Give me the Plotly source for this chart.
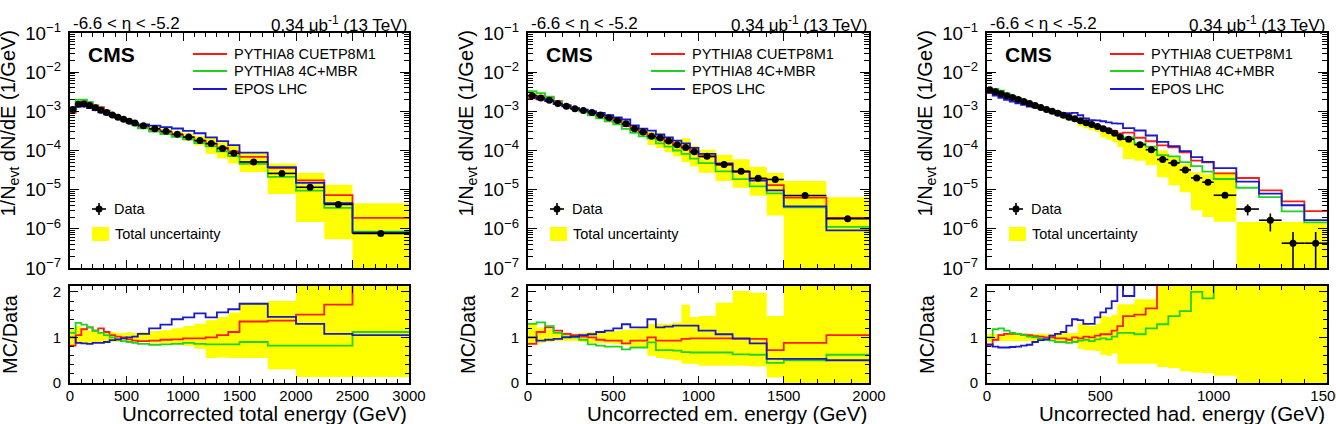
import plotly.graph_objects as go

FONT = "Liberation Sans, Arial, sans-serif"
W, H = 1336, 424

# ---------------- panel 1 : total energy ----------------
tot_edges = [0, 50, 100, 150, 200, 250, 300, 350, 400, 450, 500, 550, 600,
             700, 800, 900, 1000, 1100, 1200, 1300, 1400, 1500,
             1750, 2000, 2250, 2500, 3000]
tot_data = [1.12e-3, 1.51e-3, 1.55e-3, 1.41e-3, 1.23e-3, 1.07e-3, 9.3e-4, 8.1e-4, 7.1e-4, 6.3e-4, 5.6e-4, 5.0e-4,
            4.3e-4, 3.6e-4, 3.1e-4, 2.6e-4, 2.2e-4, 1.8e-4, 1.5e-4, 1.12e-4, 8.5e-5,
            5.1e-5, 2.6e-5, 1.15e-5, 4.2e-6, 7.6e-7]
tot_stat = [0, 0, 0, 0, 0, 0, 0, 0, 0, 0, 0, 0,
            0, 0, 0, 0, 0, 0, 0, 0, 0,
            1.5e-6, 1.5e-6, 9e-7, 5e-7, 1.3e-7]
tot_band_lo = [0.82, 0.85, 0.88, 0.88, 0.88, 0.9, 0.9, 0.9, 0.9, 0.92, 0.92, 0.9,
               0.9, 0.88, 0.87, 0.86, 0.82, 0.75, 0.55, 0.56, 0.55,
               0.55, 0.3, 0.13, 0.13, 0.13]
tot_band_hi = [1.2, 1.25, 1.2, 1.15, 1.15, 1.12, 1.12, 1.12, 1.1, 1.1, 1.12, 1.1,
               1.12, 1.14, 1.16, 1.2, 1.25, 1.3, 1.38, 1.45, 1.55,
               1.77, 1.8, 2.3, 3.2, 5.9]
tot_red = [0.82, 1.05, 1.18, 1.22, 1.15, 1.2, 1.12, 1.05, 1.02, 1.0, 0.96, 0.93,
           0.92, 0.93, 0.95, 0.96, 0.98, 0.98, 1.0, 1.05, 1.12,
           1.35, 1.37, 1.5, 1.72, 2.5]
tot_green = [1.1, 1.32, 1.28, 1.22, 1.15, 1.1, 1.05, 1.0, 0.95, 0.92, 0.9, 0.88,
             0.86, 0.84, 0.85, 0.86, 0.88, 0.86, 0.85, 0.85, 0.85,
             0.9, 0.82, 0.82, 0.82, 1.12]
tot_blue = [1.0, 0.88, 0.87, 0.86, 0.88, 0.88, 0.9, 0.94, 0.96, 0.98, 1.0, 1.02,
            1.08, 1.2, 1.28, 1.4, 1.44, 1.53, 1.44, 1.55, 1.62,
            1.74, 1.45, 1.3, 1.08, 1.05]

# ---------------- panel 2 : em energy ----------------
em_edges = [0, 50, 100, 150, 200, 250, 300, 350, 400, 450, 500, 550, 600, 650, 700, 750, 800, 850, 900, 950, 1000,
            1100, 1200, 1300, 1400, 1500, 1750, 2000]
em_data = [2.51e-3, 2.19e-3, 1.91e-3, 1.58e-3, 1.35e-3, 1.17e-3, 1.05e-3, 9.3e-4, 8.1e-4, 6.9e-4,
           5.8e-4, 4.8e-4, 3.6e-4, 2.95e-4, 2.3e-4, 2.1e-4, 1.74e-4, 1.41e-4, 1.2e-4, 9.3e-5,
           7.1e-5, 4.4e-5, 2.95e-5, 1.95e-5, 1.82e-5, 7.1e-6, 1.82e-6]
em_stat = [0, 0, 0, 0, 0, 0, 0, 0, 0, 0,
           0, 0, 0, 0, 0, 0, 0, 0, 0, 0,
           0, 0, 0, 0, 8e-7, 5e-7, 2.5e-7]
em_band_lo = [0.85, 0.88, 0.9, 0.92, 0.92, 0.92, 0.9, 0.88, 0.88, 0.87,
              0.85, 0.83, 0.8, 0.78, 0.6, 0.55, 0.52, 0.5, 0.42, 0.42,
              0.38, 0.38, 0.38, 0.36, 0.12, 0.0, 0.0]
em_band_hi = [1.3, 1.22, 1.18, 1.12, 1.08, 1.08, 1.1, 1.12, 1.12, 1.14,
              1.15, 1.17, 1.18, 1.2, 1.3, 1.3, 1.3, 1.33, 1.72, 1.45,
              1.47, 1.76, 2.02, 1.98, 1.47, 2.35, 3.5]
em_red = [0.86, 1.12, 1.22, 1.15, 1.08, 1.05, 1.02, 1.0, 0.95, 0.93,
          0.93, 0.87, 0.93, 0.93, 1.0, 0.93, 0.93, 0.93, 0.97, 0.98,
          0.98, 0.98, 0.97, 0.97, 0.72, 0.88, 1.05]
em_green = [1.3, 1.33, 1.25, 1.1, 1.02, 1.0, 0.95, 0.85, 0.82, 0.8,
            0.8, 0.74, 0.78, 0.78, 0.89, 0.72, 0.72, 0.71, 0.68, 0.67,
            0.67, 0.67, 0.63, 0.62, 0.44, 0.5, 0.62]
em_blue = [1.0, 0.93, 0.95, 0.97, 1.0, 1.02, 1.05, 1.07, 1.12, 1.15,
           1.2, 1.29, 1.22, 1.22, 1.4, 1.22, 1.24, 1.26, 1.26, 1.26,
           1.15, 1.07, 0.98, 0.87, 0.53, 0.53, 0.5]

# ---------------- panel 3 : hadronic energy ----------------
had_edges = [0, 25, 50, 75, 100, 125, 150, 175, 200, 225, 250, 275, 300,
             325, 350, 375, 400, 425, 450, 475, 500, 525, 550, 575, 600,
             650, 700, 750, 800, 850, 900, 950, 1000,
             1100, 1200, 1300, 1400, 1500]
had_data = [3.55e-3, 3.16e-3, 2.82e-3, 2.51e-3, 2.24e-3, 2.0e-3, 1.78e-3, 1.58e-3, 1.41e-3, 1.26e-3, 1.12e-3, 1.0e-3,
            8.9e-4, 7.9e-4, 7.1e-4, 6.5e-4, 5.75e-4, 5.1e-4, 4.6e-4, 4.1e-4, 3.6e-4, 3.2e-4, 2.75e-4, 2.2e-4,
            1.95e-4, 1.41e-4, 1.05e-4, 5.9e-5, 4.8e-5, 3.2e-5, 2.0e-5, 1.55e-5,
            7.2e-6, 3.2e-6, 1.66e-6, 4.3e-7, 4.3e-7]
had_stat = [0, 0, 0, 0, 0, 0, 0, 0, 0, 0, 0, 0,
            0, 0, 0, 0, 0, 0, 0, 0, 0, 0, 0, 0,
            0, 0, 0, 0, 0, 0, 0, 0,
            6e-7, 1.0e-6, 8e-7, 4.0e-7, 4.0e-7]
had_band_lo = [0.9, 0.92, 0.92, 0.92, 0.92, 0.92, 0.92, 0.92, 0.92, 0.92, 0.92, 0.92,
               0.9, 0.9, 0.9, 0.9, 0.75, 0.72, 0.72, 0.7, 0.62, 0.6, 0.65, 0.42,
               0.42, 0.42, 0.42, 0.35, 0.33, 0.26, 0.23, 0.22,
               0.16, 0.0, 0.0, 0.0, 0.0]
had_band_hi = [1.08, 1.08, 1.08, 1.08, 1.08, 1.08, 1.08, 1.08, 1.08, 1.08, 1.08, 1.08,
               1.1, 1.1, 1.1, 1.1, 1.3, 1.28, 1.25, 1.3, 1.47, 1.45, 1.5, 1.73,
               1.73, 1.84, 1.84, 3.0, 3.0, 3.0, 3.0, 3.0,
               3.0, 3.0, 3.0, 3.0, 3.0]
had_main_lo = [0.92, 0.92, 0.92, 0.92, 0.92, 0.92, 0.92, 0.92, 0.92, 0.92, 0.92, 0.92,
               0.92, 0.92, 0.92, 0.92, 0.72, 0.72, 0.72, 0.72, 0.6, 0.6, 0.6, 0.55,
               0.31, 0.39, 0.40, 0.35, 0.27, 0.27, 0.15, 0.13,
               0.21, 0.0, 0.0, 0.0, 0.0]
had_main_hi = [1.08, 1.08, 1.08, 1.08, 1.08, 1.08, 1.08, 1.08, 1.08, 1.08, 1.08, 1.08,
               1.08, 1.08, 1.08, 1.08, 1.08, 1.08, 1.08, 1.08, 1.05, 1.05, 1.05, 1.05,
               1.0, 1.02, 1.15, 1.7, 1.4, 1.4, 1.4, 1.6,
               3.9, 0.47, 0.91, 3.5, 3.5]
had_red = [0.82, 0.95, 1.05, 1.08, 1.08, 1.08, 1.06, 1.05, 1.03, 1.02, 1.0, 1.0,
           0.98, 0.98, 0.95, 1.0, 0.98, 1.02, 1.0, 1.04, 1.07, 1.07, 1.15, 1.25,
           1.47, 1.5, 1.64, 2.3, 2.5, 2.8, 2.75, 3.2,
           3.6, 6.2, 5.8, 11.7, 6.6]
had_green = [1.0, 1.18, 1.2, 1.15, 1.1, 1.08, 1.05, 1.02, 1.0, 0.98, 0.95, 0.93,
             0.9, 0.9, 0.88, 0.9, 0.93, 0.95, 0.92, 0.96, 0.98, 0.96, 1.02, 1.1,
             1.1, 1.07, 1.2, 1.29, 1.47, 1.58, 2.0, 1.86,
             2.6, 3.5, 3.9, 6.5, 3.4]
had_blue = [0.85, 0.8, 0.78, 0.78, 0.79, 0.8, 0.82, 0.84, 0.9, 0.94, 0.96, 1.04,
            1.08, 1.12, 1.26, 1.4, 1.38, 1.3, 1.3, 1.44, 1.55, 1.64, 1.8, 2.2,
            1.91, 2.3, 2.3, 2.8, 2.7, 3.0, 3.4, 3.3,
            4.9, 5.0, 4.8, 9.3, 3.9]

mc_names = ["PYTHIA8 CUETP8M1", "PYTHIA8 4C+MBR", "EPOS LHC"]
mc_colors = ["#ff1a1a", "#1fd31f", "#1a1acc"]
YELLOW = "#ffff00"

panels = [
    dict(edges=tot_edges, data=tot_data, stat=tot_stat, blo=tot_band_lo, bhi=tot_band_hi,
         mlo=tot_band_lo, mhi=tot_band_hi, mc=[tot_red, tot_green, tot_blue],
         xmax=3000, xtitle="Uncorrected total energy (GeV)", L=70, R=409),
    dict(edges=em_edges, data=em_data, stat=em_stat, blo=em_band_lo, bhi=em_band_hi,
         mlo=em_band_lo, mhi=em_band_hi, mc=[em_red, em_green, em_blue],
         xmax=2000, xtitle="Uncorrected em. energy (GeV)", L=528, R=869),
    dict(edges=had_edges, data=had_data, stat=had_stat, blo=had_band_lo, bhi=had_band_hi,
         mlo=had_main_lo, mhi=had_main_hi, mc=[had_red, had_green, had_blue],
         xmax=1500, xtitle="Uncorrected had. energy (GeV)", L=987, R=1327),
]

MAIN_TOP, MAIN_BOT = 33, 268
RAT_TOP, RAT_BOT = 286, 383


def fx(p):
    return p / W


def fy(p):
    return 1 - p / H


def band_xy(edges, base, lo, hi, floor=None):
    xs, ys = [], []
    for k in range(len(lo)):
        a, b = edges[k], edges[k + 1]
        y0 = lo[k] * (base[k] if base else 1.0)
        y1 = hi[k] * (base[k] if base else 1.0)
        if floor is not None:
            y0 = max(y0, floor)
            y1 = max(y1, floor)
        xs += [a, b, b, a, a, None]
        ys += [y0, y0, y1, y1, y0, None]
    return xs, ys


fig = go.Figure()
layout = {}
shapes = []
annots = []

for i, P in enumerate(panels):
    ma, ra = 2 * i + 1, 2 * i + 2
    xm = "x" if ma == 1 else f"x{ma}"
    ym = "y" if ma == 1 else f"y{ma}"
    xr, yr = f"x{ra}", f"y{ra}"
    edges = P["edges"]
    data = P["data"]
    centers = [(edges[k] + edges[k + 1]) / 2 for k in range(len(data))]
    halfw = [(edges[k + 1] - edges[k]) / 2 for k in range(len(data))]

    # ---- main panel ----
    bx, by = band_xy(edges, data, P["mlo"], P["mhi"], floor=1e-9)
    fig.add_trace(go.Scatter(x=bx, y=by, xaxis=xm, yaxis=ym, mode="lines", fill="toself",
                             fillcolor=YELLOW, line=dict(width=0, color=YELLOW),
                             hoverinfo="skip", showlegend=False))
    for ratio, col in zip(P["mc"], mc_colors):
        vals = [d * r for d, r in zip(data, ratio)]
        fig.add_trace(go.Scatter(x=edges, y=vals + [vals[-1]], xaxis=xm, yaxis=ym, mode="lines",
                                 line=dict(color=col, width=1.8, shape="hv"), showlegend=False))
    fig.add_trace(go.Scatter(x=centers, y=data, xaxis=xm, yaxis=ym, mode="markers",
                             marker=dict(color="black", size=7),
                             error_x=dict(type="data", array=halfw, color="black", thickness=1.6, width=0),
                             error_y=dict(type="data", array=P["stat"], color="black", thickness=1.6, width=0),
                             showlegend=False))

    # ---- ratio panel ----
    rx, ry = band_xy(edges, None, P["blo"], P["bhi"])
    fig.add_trace(go.Scatter(x=rx, y=ry, xaxis=xr, yaxis=yr, mode="lines", fill="toself",
                             fillcolor=YELLOW, line=dict(width=0, color=YELLOW),
                             hoverinfo="skip", showlegend=False))
    for ratio, col in zip(P["mc"], mc_colors):
        fig.add_trace(go.Scatter(x=edges, y=list(ratio) + [ratio[-1]], xaxis=xr, yaxis=yr, mode="lines",
                                 line=dict(color=col, width=1.8, shape="hv"), showlegend=False))
    shapes.append(dict(type="line", xref=f"{xr} domain", yref=yr, x0=0, x1=1, y0=1, y1=1,
                       line=dict(color="#333333", width=1.6, dash="5px,4px"), layer="below"))

    L, R = P["L"], P["R"]
    xdom = [fx(L), fx(R)]
    common_x = dict(domain=xdom, range=[0, P["xmax"]], showline=True, linewidth=2, linecolor="black",
                    mirror="allticks", ticks="inside", tickcolor="black", tickwidth=1.3,
                    tick0=0, dtick=500, showgrid=False, zeroline=False, automargin=False,
                    minor=dict(ticks="inside", dtick=100, ticklen=4, tickcolor="black", tickwidth=1.1))
    layout["xaxis" if ma == 1 else f"xaxis{ma}"] = dict(common_x, anchor=ym, showticklabels=False, ticklen=8)
    layout[f"xaxis{ra}"] = dict(common_x, anchor=yr, ticklen=7, ticklabeloverflow="allow",
                                ticklabelstandoff=-2,
                                tickfont=dict(size=15, family=FONT, color="black"))
    layout["yaxis" if ma == 1 else f"yaxis{ma}"] = dict(
        domain=[fy(MAIN_BOT), fy(MAIN_TOP)], anchor=xm, type="log", range=[-7, -1],
        dtick=1, exponentformat="power", showexponent="all", automargin=False,
        showline=True, linewidth=2, linecolor="black", mirror="allticks",
        ticks="inside", ticklen=9, tickcolor="black", tickwidth=1.3, showgrid=False, zeroline=False,
        ticklabelstandoff=4, tickfont=dict(size=15, family=FONT, color="black"),
        minor=dict(ticks="inside", dtick="D1", ticklen=5, tickcolor="black", tickwidth=1.1))
    layout[f"yaxis{ra}"] = dict(
        domain=[fy(RAT_BOT), fy(RAT_TOP)], anchor=xr, range=[0, 2.13], automargin=False,
        tick0=0, dtick=1, showline=True, linewidth=2, linecolor="black", mirror="allticks",
        ticks="inside", ticklen=8, tickcolor="black", tickwidth=1.3, showgrid=False, zeroline=False,
        ticklabelstandoff=4, tickfont=dict(size=15, family=FONT, color="black"),
        minor=dict(ticks="inside", dtick=0.2, ticklen=4, tickcolor="black", tickwidth=1.1))

    # ---- texts ----
    annots.append(dict(text=P["xtitle"], xref="paper", yref="paper", x=fx(R), y=fy(413.5),
                       xanchor="right", yanchor="middle", showarrow=False,
                       font=dict(size=20.5, family=FONT, color="black")))
    annots.append(dict(text="1/N<sub>evt</sub> dN/dE (1/GeV)", xref="paper", yref="paper",
                       x=fx(L - 61), y=fy(28), xanchor="center", yanchor="top", textangle=-90,
                       showarrow=False, font=dict(size=20, family=FONT, color="black")))
    annots.append(dict(text="MC/Data", xref="paper", yref="paper",
                       x=fx(L - 60), y=fy(292), xanchor="center", yanchor="top", textangle=-90,
                       showarrow=False, font=dict(size=20, family=FONT, color="black")))
    annots.append(dict(text="-6.6 < η < -5.2", xref="paper", yref="paper", x=fx(L + 1), y=fy(24),
                       xanchor="left", yanchor="middle", showarrow=False,
                       font=dict(size=17, family=FONT, color="black")))
    annots.append(dict(text="0.34 μb<sup>-1</sup> (13 TeV)", xref="paper", yref="paper", x=fx(R), y=fy(24),
                       xanchor="right", yanchor="middle", showarrow=False,
                       font=dict(size=17, family=FONT, color="black")))
    annots.append(dict(text="<b>CMS</b>", xref="paper", yref="paper", x=fx(L + 16), y=fy(54),
                       xanchor="left", yanchor="middle", showarrow=False,
                       font=dict(size=21, family=FONT, color="black")))
    for k, (nm, col) in enumerate(zip(mc_names, mc_colors)):
        yy = [54, 71, 89][k]
        shapes.append(dict(type="line", xref="paper", yref="paper", x0=fx(L + 123), x1=fx(L + 157),
                           y0=fy(yy), y1=fy(yy), line=dict(color=col, width=1.8)))
        annots.append(dict(text=nm, xref="paper", yref="paper", x=fx(L + 162), y=fy(yy),
                           xanchor="left", yanchor="middle", showarrow=False,
                           font=dict(size=14.5, family=FONT, color="black")))
    # data legend
    shapes.append(dict(type="line", xref="paper", yref="paper", x0=fx(L + 22), x1=fx(L + 36),
                       y0=fy(209), y1=fy(209), line=dict(color="black", width=1.6)))
    shapes.append(dict(type="line", xref="paper", yref="paper", x0=fx(L + 29), x1=fx(L + 29),
                       y0=fy(203), y1=fy(215), line=dict(color="black", width=1.6)))
    shapes.append(dict(type="circle", xref="paper", yref="paper", x0=fx(L + 25.5), x1=fx(L + 32.5),
                       y0=fy(205.5), y1=fy(212.5), fillcolor="black", line=dict(color="black", width=0)))
    annots.append(dict(text="Data", xref="paper", yref="paper", x=fx(L + 42), y=fy(209),
                       xanchor="left", yanchor="middle", showarrow=False,
                       font=dict(size=14.5, family=FONT, color="black")))
    shapes.append(dict(type="rect", xref="paper", yref="paper", x0=fx(L + 22), x1=fx(L + 39),
                       y0=fy(241), y1=fy(227), fillcolor=YELLOW, line=dict(width=0)))
    annots.append(dict(text="Total uncertainty", xref="paper", yref="paper", x=fx(L + 43), y=fy(234),
                       xanchor="left", yanchor="middle", showarrow=False,
                       font=dict(size=14.5, family=FONT, color="black")))

fig.update_layout(
    width=W, height=H, margin=dict(l=0, r=0, t=0, b=0, pad=0, autoexpand=False),
    paper_bgcolor="white", plot_bgcolor="white",
    font=dict(family=FONT, color="black"),
    showlegend=False, shapes=shapes, annotations=annots, **layout)

fig.write_html("out.html")
